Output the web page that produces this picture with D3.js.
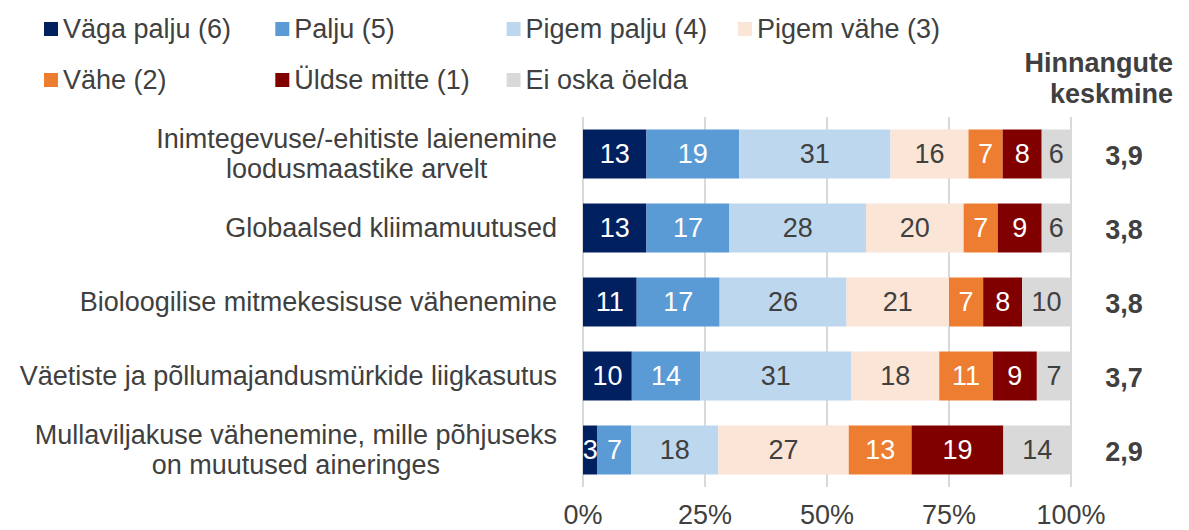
<!DOCTYPE html>
<html>
<head>
<meta charset="utf-8">
<script src="https://cdn.jsdelivr.net/npm/d3@7"></script>
<style>
  body { margin: 0; background: #fff; }
  #content { width: 1189px; height: 530px; }
  text { font-family: "Liberation Sans", Arial, sans-serif; fill: #404040; }
</style>
</head>
<body>
<div id="content"></div>
<script>
var width = 1189;
var height = 530;

// andmed
var categories = [
  ['Inimtegevuse/-ehitiste laienemine', 'loodusmaastike arvelt'],
  ['Globaalsed kliimamuutused'],
  ['Bioloogilise mitmekesisuse vähenemine'],
  ['Väetiste ja põllumajandusmürkide liigkasutus'],
  ['Mullaviljakuse vähenemine, mille põhjuseks', 'on muutused aineringes']
];
var seriesNames = ['Väga palju (6)', 'Palju (5)', 'Pigem palju (4)', 'Pigem vähe (3)',
  'Vähe (2)', 'Üldse mitte (1)', 'Ei oska öelda'];
var seriesColors = ['#002060', '#5b9bd5', '#bdd7ee', '#fbe5d6', '#ed7d31', '#800000', '#d9d9d9'];
var labelColors = ['#fff', '#fff', '#404040', '#404040', '#fff', '#fff', '#404040'];
var vagaPalju = [13, 13, 11, 10, 3];
var palju = [19, 17, 17, 14, 7];
var pigemPalju = [31, 28, 26, 31, 18];
var pigemVahe = [16, 20, 21, 18, 27];
var vahe = [7, 7, 7, 11, 13];
var uldseMitte = [8, 9, 8, 9, 19];
var eiOska = [6, 6, 10, 7, 14];
var means = [3.9, 3.8, 3.8, 3.7, 2.9];
var ticks = [0, 0.25, 0.5, 0.75, 1];

var seriesValues = [vagaPalju, palju, pigemPalju, pigemVahe, vahe, uldseMitte, eiOska];
var rows = categories.map(function(c, i){
  var r = {idx: i};
  seriesNames.forEach(function(s, j){ r[s] = seriesValues[j][i]; });
  return r;
});

var svg = d3.select('div#content').append('svg')
  .attr('width', width)
  .attr('height', height);

var x = d3.scaleLinear().domain([0, 1]).range([583, 1071]);
var y = d3.scaleBand()
  .domain(d3.range(categories.length))
  .range([117, 487])
  .paddingInner(0.338)
  .paddingOuter(0.169);

var fs = 27;

// ruudustik
svg.append('g')
  .selectAll('line')
  .data(ticks)
  .enter()
  .append('line')
  .attr('x1', function(d){ return x(d); })
  .attr('x2', function(d){ return x(d); })
  .attr('y1', 117)
  .attr('y2', 487)
  .attr('stroke', '#d9d9d9')
  .attr('stroke-width', 2);

var stack = d3.stack().keys(seriesNames).offset(d3.stackOffsetExpand);
var stacked = stack(rows);

var layers = svg.append('g')
  .selectAll('g')
  .data(stacked)
  .enter()
  .append('g')
  .attr('fill', function(d, i){ return seriesColors[i]; });

layers.selectAll('rect')
  .data(function(d){ return d; })
  .enter()
  .append('rect')
  .attr('x', function(d){ return x(d[0]); })
  .attr('y', function(d){ return y(d.data.idx); })
  .attr('width', function(d){ return x(d[1]) - x(d[0]); })
  .attr('height', y.bandwidth());

stacked.forEach(function(layer, i){
  svg.append('g')
    .selectAll('text')
    .data(layer)
    .enter()
    .append('text')
    .attr('x', function(d){ return (x(d[0]) + x(d[1])) / 2; })
    .attr('y', function(d){ return y(d.data.idx) + y.bandwidth() / 2; })
    .attr('dy', '0.35em')
    .attr('text-anchor', 'middle')
    .attr('font-size', fs)
    .style('fill', labelColors[i])
    .text(function(d){ return d.data[layer.key]; });
});

// kategooriate nimed
var labelRight = 557;
categories.forEach(function(lines, i){
  var cy = y(i) + y.bandwidth() / 2;
  var g = svg.append('g');
  var texts = g.selectAll('text')
    .data(lines)
    .enter()
    .append('text')
    .attr('font-size', fs)
    .attr('text-anchor', 'middle')
    .attr('y', function(d, j){ return cy + (j - (lines.length - 1) / 2) * 30; })
    .attr('dy', '0.35em')
    .text(function(d){ return d; });
  var maxW = 0;
  texts.each(function(){ maxW = Math.max(maxW, this.getComputedTextLength()); });
  texts.attr('x', labelRight - maxW / 2);
});

// x-telg
svg.append('g')
  .selectAll('text')
  .data(ticks)
  .enter()
  .append('text')
  .attr('x', function(d){ return x(d); })
  .attr('y', 515)
  .attr('dy', '0.35em')
  .attr('text-anchor', 'middle')
  .attr('font-size', fs)
  .text(function(d){ return d3.format('.0%')(d); });

// keskmised
svg.append('g')
  .selectAll('text')
  .data(means)
  .enter()
  .append('text')
  .attr('x', 1124)
  .attr('y', function(d, i){ return y(i) + y.bandwidth() / 2 + 2; })
  .attr('dy', '0.35em')
  .attr('text-anchor', 'middle')
  .attr('font-size', fs)
  .attr('font-weight', 'bold')
  .text(function(d){ return d.toFixed(1).replace('.', ','); });

svg.append('g')
  .selectAll('text')
  .data(['Hinnangute', 'keskmine'])
  .enter()
  .append('text')
  .attr('x', 1173)
  .attr('y', function(d, i){ return 72 + i * 31; })
  .attr('text-anchor', 'end')
  .attr('font-size', fs)
  .attr('font-weight', 'bold')
  .text(function(d){ return d; });

// legend
var legend = svg.append('g')
  .selectAll('g')
  .data(seriesNames)
  .enter()
  .append('g')
  .attr('transform', function(d, i){
    var col = i < 4 ? i : i - 4;
    var row = i < 4 ? 0 : 1;
    return 'translate(' + (44 + col * 231.3) + ',' + (29 + row * 51) + ')';
  });
legend.append('rect')
  .attr('x', 0)
  .attr('y', -7)
  .attr('width', 14)
  .attr('height', 14)
  .attr('fill', function(d, i){ return seriesColors[i]; });
legend.append('text')
  .attr('x', 19)
  .attr('y', 0)
  .attr('dy', '0.35em')
  .attr('font-size', fs)
  .text(function(d){ return d; });
</script>
</body>
</html>
